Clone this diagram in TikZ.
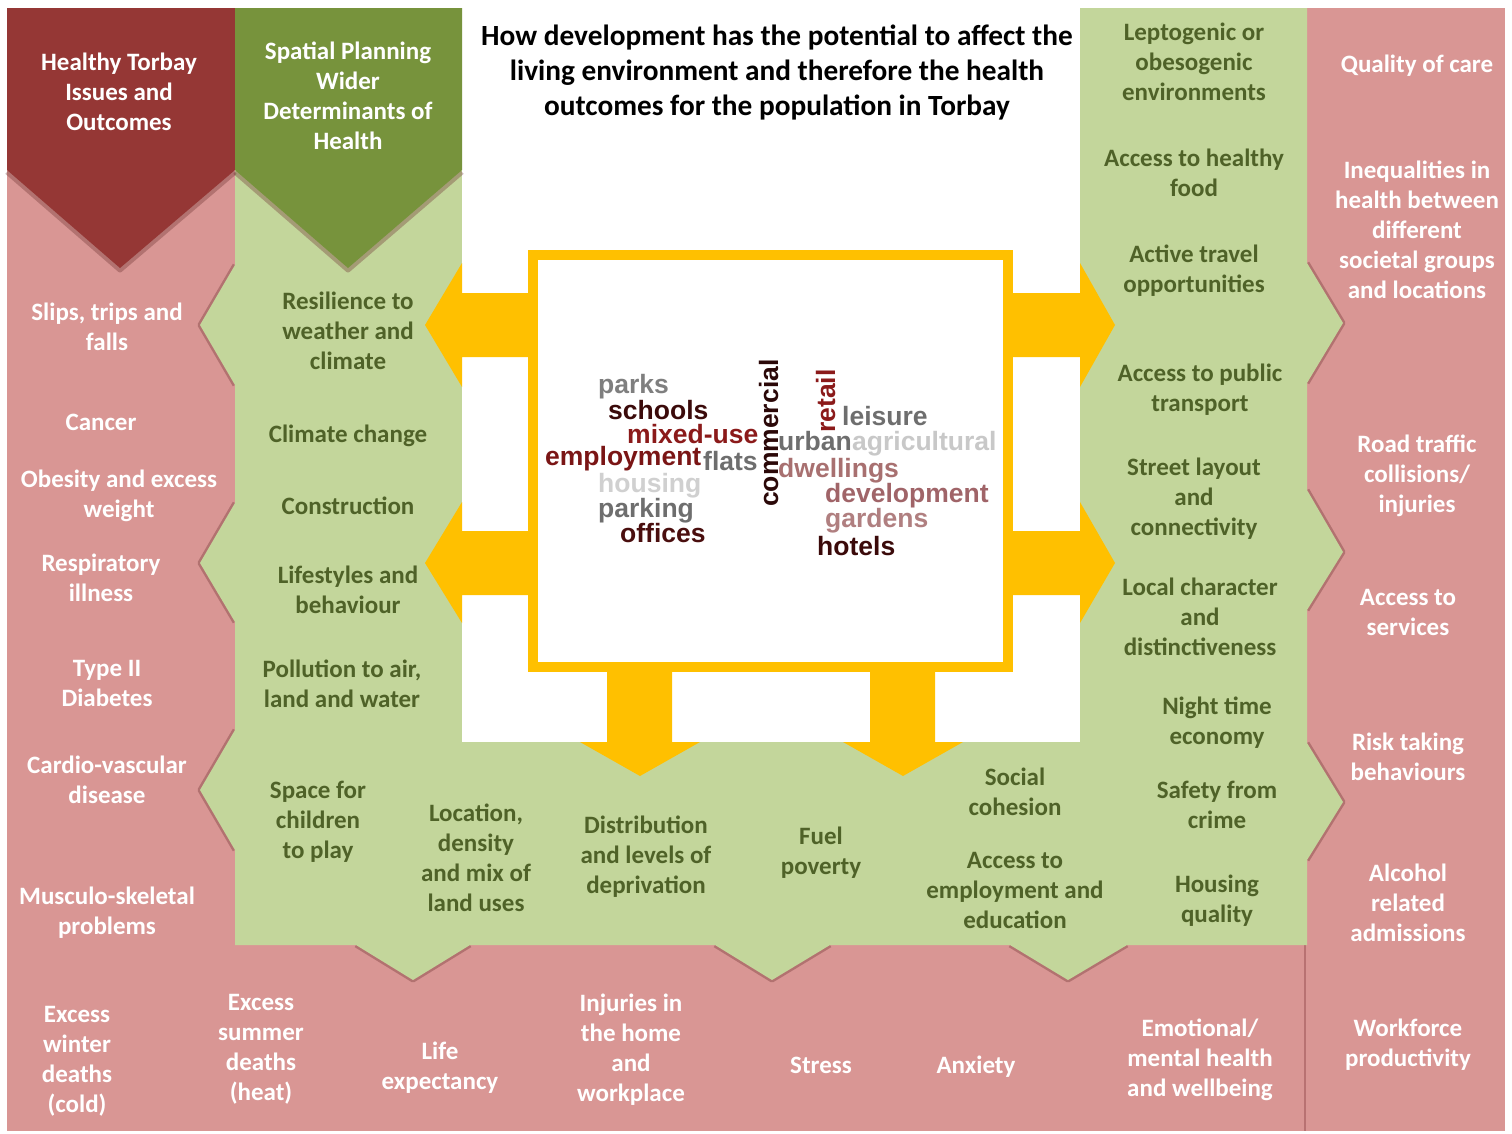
\documentclass[tikz,border=0pt]{standalone}
\usepackage{fontspec}
\setmainfont{Carlito}
\newfontfamily\wcfont{Liberation Sans}
\definecolor{pinkbg}{HTML}{D99694}
\definecolor{darkred}{HTML}{953735}
\definecolor{darkgreen}{HTML}{77933C}
\definecolor{lightgreen}{HTML}{C3D69B}
\definecolor{yellowc}{HTML}{FFC000}
\definecolor{greentext}{HTML}{4F6228}
\definecolor{shadowcol}{HTML}{6B2F2F}
\definecolor{sepline}{HTML}{B87272}
\definecolor{wgrayA}{HTML}{7F7F7F}
\definecolor{wgrayB}{HTML}{6E6E6E}
\definecolor{wgrayC}{HTML}{D0D0D0}
\definecolor{wgrayD}{HTML}{C8C8C8}
\definecolor{wdark}{HTML}{3B0A0A}
\definecolor{wdarker}{HTML}{2B0808}
\definecolor{wmaroon}{HTML}{8B1A1A}
\definecolor{wmaroonB}{HTML}{7A1515}
\definecolor{woffice}{HTML}{4A0E0E}
\definecolor{wroseA}{HTML}{A87070}
\definecolor{wroseB}{HTML}{A06468}
\definecolor{wroseC}{HTML}{B07F80}
\begin{document}
\begin{tikzpicture}[x=1pt,y=-1pt,
  body/.style={align=center, inner sep=0pt, yshift=-4pt, font=\fontsize{25}{30}\selectfont\bfseries,
    execute at begin node=\strut, execute at end node=\strut},
  wtxt/.style={body, text=white},
  gtxt/.style={body, text=greentext},
  titletxt/.style={align=center, inner sep=0pt, yshift=-5pt, text=black, font=\fontsize{29.3}{35}\selectfont\bfseries,
    execute at begin node=\strut, execute at end node=\strut},
  word/.style={anchor=base west, inner sep=0pt, font=\wcfont\fontsize{26.5}{30}\selectfont\bfseries},
  shadowline/.style={draw=shadowcol, line width=5pt, opacity=0.35, line join=round},
  arrowfill/.style={fill=yellowc}
]
\useasboundingbox (0,0) rectangle (1512,1133);
\fill[white] (0,0) rectangle (1512,1133);
% pink background
\fill[pinkbg] (7,8) rectangle (1505,1131);
\draw[sepline, line width=1.5pt] (1305,945) -- (1305,1131);
% shadows of chevrons
\draw[shadowline] (235,265) -- (200,325) -- (235,385);
\draw[shadowline] (235,503) -- (200,563) -- (235,622);
\draw[shadowline] (235,730) -- (200,790) -- (235,850);
\draw[shadowline] (1307,263) -- (1343,323) -- (1307,383);
\draw[shadowline] (1307,490) -- (1343,552) -- (1307,610);
\draw[shadowline] (1307,743) -- (1343,802) -- (1307,860);
\draw[shadowline] (356,945) -- (413,980) -- (470,945);
\draw[shadowline] (715,945) -- (772,980) -- (830,945);
\draw[shadowline] (1010,945) -- (1068,980) -- (1127,945);
% light green frame
\fill[lightgreen] (235,8) -- (462,8) -- (462,742) -- (1080,742) -- (1080,8) -- (1307,8)
  -- (1307,263) -- (1343,323) -- (1307,383)
  -- (1307,490) -- (1343,552) -- (1307,610)
  -- (1307,743) -- (1343,802) -- (1307,860)
  -- (1307,945) -- (1127,945) -- (1068,980) -- (1010,945)
  -- (830,945) -- (772,980) -- (715,945)
  -- (470,945) -- (413,980) -- (356,945)
  -- (235,945) -- (235,850) -- (200,790) -- (235,730)
  -- (235,622) -- (200,563) -- (235,503)
  -- (235,385) -- (200,325) -- (235,265) -- cycle;
% white centre
\fill[white] (462,0) rectangle (1080,742);
% header shadows and headers
\draw[shadowline] (7,172) -- (120,270) -- (235,172);
\draw[shadowline] (235,172) -- (348,270) -- (462,172);
\fill[darkred] (7,8) -- (235,8) -- (235,170) -- (120,268) -- (7,170) -- cycle;
\fill[darkgreen] (235,8) -- (462,8) -- (462,170) -- (348,268) -- (235,170) -- cycle;
% yellow arrows
\fill[arrowfill] (530,293) -- (462,293) -- (462,263) -- (425,325) -- (462,387) -- (462,357) -- (530,357) -- cycle;
\fill[arrowfill] (530,531) -- (462,531) -- (462,502) -- (425,563) -- (462,623) -- (462,595) -- (530,595) -- cycle;
\fill[arrowfill] (1012,293) -- (1080,293) -- (1080,263) -- (1115,325) -- (1080,387) -- (1080,357) -- (1012,357) -- cycle;
\fill[arrowfill] (1012,531) -- (1080,531) -- (1080,502) -- (1115,563) -- (1080,623) -- (1080,595) -- (1012,595) -- cycle;
\fill[arrowfill] (607,670) -- (607,742) -- (580,742) -- (640,776) -- (700,742) -- (672,742) -- (672,670) -- cycle;
\fill[arrowfill] (870,670) -- (870,742) -- (843,742) -- (903,776) -- (963,742) -- (935,742) -- (935,670) -- cycle;
% central box
\draw[yellowc, line width=10pt, fill=white] (533,255) rectangle (1008,667);

% title
\node[titletxt] (title) at (777,70) {How development has the potential to affect the\\living environment and therefore the health\\outcomes for the population in Torbay};

% word cloud
\node[word, text=wgrayA] (wparks) at (598,393) {parks};
\node[word, text=wdark] (wschools) at (608,419) {schools};
\node[word, text=wmaroon] (wmixed) at (627,443) {mixed-use};
\node[word, text=wmaroonB] (wemploy) at (545,465) {employment};
\node[word, text=wgrayB] (wflats) at (703,470) {flats};
\node[word, text=wgrayC] (whousing) at (598,492) {housing};
\node[word, text=wgrayB] (wparking) at (598,517) {parking};
\node[word, text=woffice] (woffices) at (620,542) {offices};
\node[word, text=wdarker, rotate=90] (wcommercial) at (778,507) {commercial};
\node[word, text=wmaroon, rotate=90] (wretail) at (835,433) {retail};
\node[word, text=wgrayB] (wleisure) at (842,425) {leisure};
\node[word, text=wgrayB] (wurban) at (778,450) {urban};
\node[word, text=wgrayD] (wagri) at (852,450) {agricultural};
\node[word, text=wroseA] (wdwell) at (778,477) {dwellings};
\node[word, text=wroseB] (wdevel) at (825,502) {development};
\node[word, text=wroseC] (wgardens) at (825,527) {gardens};
\node[word, text=wdark] (whotels) at (817,555) {hotels};

% left pink column
\node[wtxt] (hdrR) at (119,92) {Healthy Torbay\\Issues and\\Outcomes};
\node[wtxt] (slips) at (107,327) {Slips, trips and\\falls};
\node[wtxt] (cancer) at (101,420) {Cancer};
\node[wtxt] (obesity) at (119,494) {Obesity and excess\\weight};
\node[wtxt] (resp) at (101,578) {Respiratory\\illness};
\node[wtxt] (diab) at (107,684) {Type II\\Diabetes};
\node[wtxt] (cardio) at (107,780) {Cardio-vascular\\disease};
\node[wtxt] (musc) at (107,911) {Musculo-skeletal\\problems};

% green header and left green column
\node[wtxt] (hdrG) at (348,96) {Spatial Planning\\Wider\\Determinants of\\Health};
\node[gtxt] (res) at (348,331) {Resilience to\\weather and\\climate};
\node[gtxt] (clim) at (348,432) {Climate change};
\node[gtxt] (constr) at (348,504) {Construction};
\node[gtxt] (life) at (348,590) {Lifestyles and\\behaviour};
\node[gtxt] (poll) at (342,684) {Pollution to air,\\land and water};

% bottom green band
\node[gtxt] (space) at (318,820) {Space for\\children\\to play};
\node[gtxt] (loc) at (476,858) {Location,\\density\\and mix of\\land uses};
\node[gtxt] (dist) at (646,855) {Distribution\\and levels of\\deprivation};
\node[gtxt] (fuel) at (821,851) {Fuel\\poverty};
\node[gtxt] (social) at (1015,792) {Social\\cohesion};
\node[gtxt] (access) at (1015,891) {Access to\\employment and\\education};
\node[gtxt] (housingq) at (1217,899) {Housing\\quality};

% right green column
\node[gtxt] (lepto) at (1194,62) {Leptogenic or\\obesogenic\\environments};
\node[gtxt] (food) at (1194,173) {Access to healthy\\food};
\node[gtxt] (active) at (1194,269) {Active travel\\opportunities};
\node[gtxt] (public) at (1200,388) {Access to public\\transport};
\node[gtxt] (street) at (1194,497) {Street layout\\and\\connectivity};
\node[gtxt] (local) at (1200,617) {Local character\\and\\distinctiveness};
\node[gtxt] (night) at (1217,721) {Night time\\economy};
\node[gtxt] (safety) at (1217,805) {Safety from\\crime};

% right pink column
\node[wtxt] (quality) at (1417,62) {Quality of care};
\node[wtxt] (ineq) at (1417,230) {Inequalities in\\health between\\different\\societal groups\\and locations};
\node[wtxt] (road) at (1417,474) {Road traffic\\collisions/\\injuries};
\node[wtxt] (services) at (1408,613) {Access to\\services};
\node[wtxt] (risk) at (1408,757) {Risk taking\\behaviours};
\node[wtxt] (alcohol) at (1408,903) {Alcohol\\related\\admissions};
\node[wtxt] (work) at (1408,1043) {Workforce\\productivity};

% bottom pink band
\node[wtxt] (winter) at (77,1060) {Excess\\winter\\deaths\\(cold)};
\node[wtxt] (summer) at (261,1048) {Excess\\summer\\deaths\\(heat)};
\node[wtxt] (lifeexp) at (440,1066) {Life\\expectancy};
\node[wtxt] (injuries) at (631,1048) {Injuries in\\the home\\and\\workplace};
\node[wtxt] (stress) at (821,1063) {Stress};
\node[wtxt] (anxiety) at (976,1063) {Anxiety};
\node[wtxt] (emot) at (1200,1058) {Emotional/\\mental health\\and wellbeing};
\end{tikzpicture}
\end{document}
